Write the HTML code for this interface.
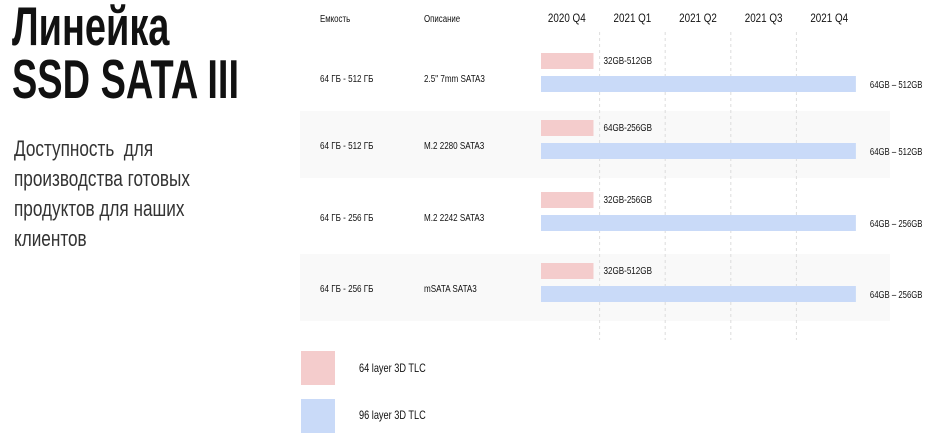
<!DOCTYPE html>
<html><head><meta charset="utf-8">
<style>
html,body{margin:0;padding:0;background:#fff;}
body{width:937px;height:439px;position:relative;overflow:hidden;font-family:"Liberation Sans",sans-serif;color:#111;}
.t{position:absolute;white-space:nowrap;transform-origin:0 0;}
#title{left:12px;top:0px;font-size:55px;font-weight:bold;line-height:53px;transform:scaleX(0.69);}
#sub{left:14px;top:134px;font-size:22px;line-height:30px;color:#333;transform:scaleX(0.78);}
svg{position:absolute;left:0;top:0;}
svg text{font-family:"Liberation Sans",sans-serif;}
</style></head>
<body>
<div id="title" class="t">Линейка<br>SSD SATA III</div>
<div id="sub" class="t">Доступность&nbsp; для<br>производства готовых<br>продуктов для наших<br>клиентов</div>
<svg id="chart" width="937" height="439"></svg>
<script>
const quarters = ["2020 Q4","2021 Q1","2021 Q2","2021 Q3","2021 Q4"];
const capacities = ["64 ГБ - 512 ГБ","64 ГБ - 512 ГБ","64 ГБ - 256 ГБ","64 ГБ - 256 ГБ"];
const descriptions = ["2.5\" 7mm SATA3","M.2 2280 SATA3","M.2 2242 SATA3","mSATA SATA3"];
const pinkEnd = [0.8,0.8,0.8,0.8];
const blueEnd = [4.8,4.8,4.8,4.8];
const pinkLabels = ["32GB-512GB","64GB-256GB","32GB-256GB","32GB-512GB"];
const blueLabels = ["64GB – 512GB","64GB – 512GB","64GB – 256GB","64GB – 256GB"];

const NS="http://www.w3.org/2000/svg";
const svg=document.getElementById('chart');
const X0=534, QW=65.6, BAR0=541;
const xq=q=>BAR0+q*QW;
const rowTop=[44,111,183,254];
function mk(tag,attrs){const e=document.createElementNS(NS,tag);for(const k in attrs)e.setAttribute(k,attrs[k]);svg.appendChild(e);return e;}
function txt(x,y,s,size,anchor,sx){const e=mk('text',{x:0,y:0,'font-size':size,'text-anchor':anchor||'start',fill:'#111','dominant-baseline':'middle',transform:'translate('+x+','+y+') scale('+(sx||0.8)+',1)'});e.textContent=s;return e;}

rowTop.forEach((t,i)=>{ if(i%2==1){const r=mk('rect',{x:300,y:t,width:590,height:67,fill:'#f9f9f9'});

}});
for(let i=1;i<quarters.length;i++){const l=mk('line',{x1:X0+i*QW,x2:X0+i*QW,y1:32,y2:340,stroke:'#ddd','stroke-dasharray':'3,3'});

}
let h=txt(320,19,'Емкость',10.5,'start',0.75);


h=txt(424,19,'Описание',10.5,'start',0.75);


quarters.forEach((q,i)=>{const e=txt(X0+(i+0.5)*QW,19,q,12,'middle',0.82);

});
capacities.forEach((c,i)=>{
  const t=rowTop[i];
  let e=txt(320,t+35,c,10.5,'start',0.77);
  
  
  e=txt(424,t+35,descriptions[i],10.5,'start',0.77);
  
  
  const py=t+9, by=t+32;
  let r=mk('rect',{x:xq(0),y:py,width:xq(pinkEnd[i])-xq(0),height:16,fill:'#f4cccc'});
  
  
  e=txt(xq(pinkEnd[i])+10,py+8,pinkLabels[i],10.5,'start',0.77);
  
  
  r=mk('rect',{x:xq(0),y:by,width:xq(blueEnd[i])-xq(0),height:16,fill:'#c9daf8'});
  
  
  e=txt(xq(blueEnd[i])+14,by+9,blueLabels[i],10.5,'start',0.74);
  
  
});
let r=mk('rect',{x:301,y:351,width:34,height:34,fill:'#f4cccc'});


let e=txt(359,369,'64 layer 3D TLC',11.5,'start',0.8);


r=mk('rect',{x:301,y:399,width:34,height:34,fill:'#c9daf8'});


e=txt(359,416,'96 layer 3D TLC',11.5,'start',0.8);


</script>
</body></html>
